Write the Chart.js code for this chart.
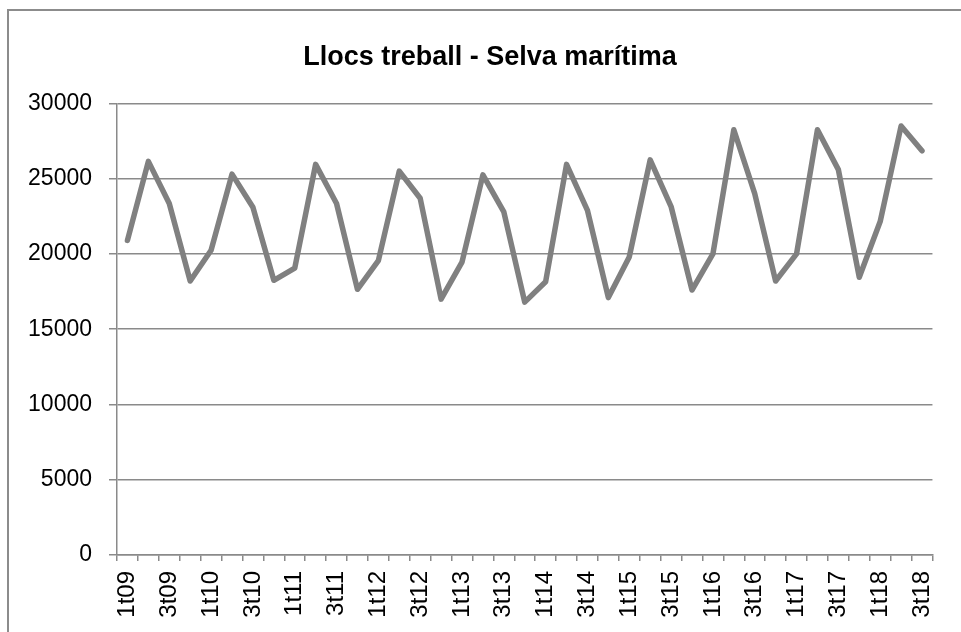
<!DOCTYPE html>
<html>
<head>
<meta charset="utf-8">
<title>Llocs treball - Selva marítima</title>
<script src="https://cdn.jsdelivr.net/npm/chart.js@4.4.1/dist/chart.umd.min.js"></script>
<style>
    html, body { margin: 0; padding: 0; background: #fff; }
    #wrap { width: 961px; height: 632px; position: relative; }
</style>
</head>
<body>
<div id="wrap"><canvas id="grafic" width="961" height="632"></canvas></div>
<script>
// Trimestres 1t09 .. 3t18
const trimestres = ['1t09','2t09','3t09','4t09','1t10','2t10','3t10','4t10',
    '1t11','2t11','3t11','4t11','1t12','2t12','3t12','4t12',
    '1t13','2t13','3t13','4t13','1t14','2t14','3t14','4t14',
    '1t15','2t15','3t15','4t15','1t16','2t16','3t16','4t16',
    '1t17','2t17','3t17','4t17','1t18','2t18','3t18'];

// Llocs de treball (valors llegits del gràfic)
const llocsTreball = [20900, 26150, 23350, 18200, 20250, 25300, 23100, 18250,
    19050, 25950, 23350, 17650, 19550, 25500, 23700, 17000,
    19450, 25250, 22800, 16800, 18150, 25950, 22900, 17100,
    19800, 26250, 23150, 17600, 20000, 28250, 24000, 18200,
    20000, 28250, 25600, 18450, 22150, 28500, 26850];

const eixY = [0, 5000, 10000, 15000, 20000, 25000, 30000];

const grisLinia = '#808080';
const grisEix = '#8a8a8a';
const font = "'Liberation Sans', Arial, sans-serif";

// Marc exterior del gràfic (estil Excel) i títol una mica desplaçat a la dreta
const marc = {
    id: 'marc',
    afterLayout(chart) {
        // el títol de l'original està centrat sobre el marc, no sobre el llenç
        chart.titleBlock.left = 35;
    },
    beforeDraw(chart) {
        const ctx = chart.ctx;
        ctx.save();
        ctx.fillStyle = '#fff';
        ctx.fillRect(0, 0, chart.width, chart.height);
        ctx.strokeStyle = '#8c8c8c';
        ctx.lineWidth = 2;
        ctx.strokeRect(8, 10, 1000, 1000);
        ctx.restore();
    }
};

new Chart(document.getElementById('grafic'), {
    type: 'line',
    data: {
        labels: trimestres,
        datasets: [{
            label: 'Llocs treball',
            data: llocsTreball,
            borderColor: grisLinia,
            borderWidth: 5.5,
            borderCapStyle: 'round',
            borderJoinStyle: 'round',
            pointRadius: 0,
            tension: 0,
            fill: false
        }]
    },
    options: {
        responsive: false,
        animation: false,
        layout: { padding: { left: 0, right: 16, top: 0, bottom: 0 } },
        plugins: {
            legend: { display: false },
            tooltip: { enabled: false },
            title: {
                display: true,
                text: 'Llocs treball - Selva marítima',
                color: '#000',
                font: { family: font, size: 27, weight: 'bold' },
                padding: { top: 41, bottom: 30 }
            }
        },
        scales: {
            x: {
                offset: true,
                grid: {
                    offset: true,
                    drawOnChartArea: false,
                    drawTicks: true,
                    tickLength: 6,
                    color: grisEix,
                    lineWidth: 1.5
                },
                border: { color: grisEix, width: 1.5 },
                ticks: {
                    autoSkip: false,
                    minRotation: 90,
                    maxRotation: 90,
                    padding: 10,
                    color: '#000',
                    font: { family: font, size: 24 },
                    callback: function (val, i) {
                        return i % 2 === 0 ? this.getLabelForValue(val) : '';
                    }
                },
                afterFit: function (scale) { scale.height = 77; }
            },
            y: {
                min: eixY[0],
                max: eixY[eixY.length - 1],
                afterBuildTicks: function (scale) {
                    scale.ticks = eixY.map(v => ({ value: v }));
                },
                grid: {
                    color: grisEix,
                    lineWidth: 1.5,
                    drawTicks: true,
                    tickLength: 8
                },
                border: { color: grisEix, width: 1.5 },
                ticks: {
                    padding: 17,
                    color: '#000',
                    font: { family: font, size: 23 },
                    callback: function (val) { return String(val); }
                },
                afterFit: function (scale) { scale.width = 117; }
            }
        }
    },
    plugins: [marc]
});
</script>
</body>
</html>
